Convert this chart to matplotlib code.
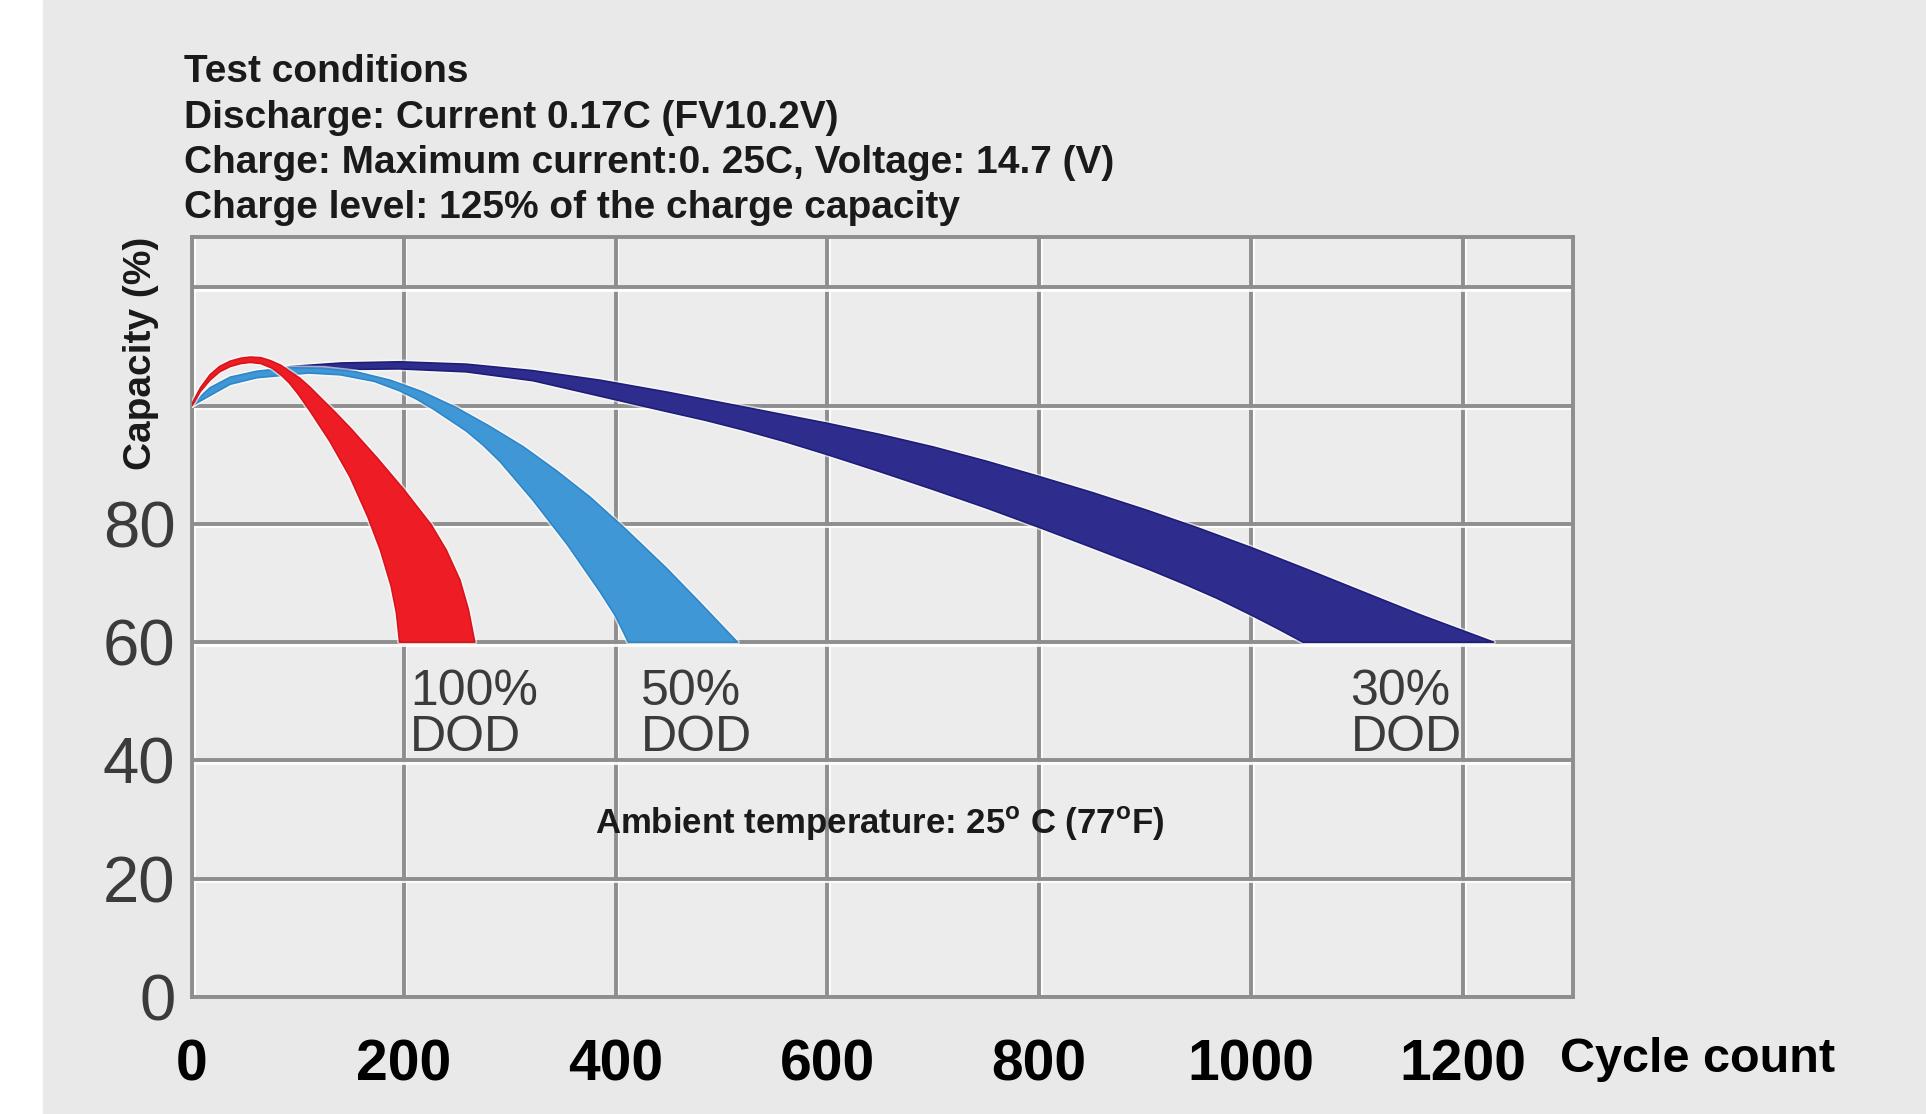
import matplotlib
matplotlib.use("Agg")
import matplotlib.pyplot as plt
import matplotlib.patheffects as pe
from matplotlib.patches import Rectangle
import numpy as np

# capacity bands (cycle count, capacity %)
red_outer_x = [0, 8, 17, 26, 36, 46, 55, 65, 74, 84, 92, 102, 112, 122, 135, 150, 175, 200, 226, 240, 253, 261, 267]
red_outer_y = [100.3, 103.0, 105.2, 106.6, 107.5, 108.0, 108.2, 108.1, 107.6, 106.8, 105.8, 104.6, 103.0, 101.2,
               98.9, 96.1, 91.1, 85.8, 79.8, 75.6, 70.5, 65.5, 60]
red_inner_x = [0, 8, 17, 26, 36, 46, 55, 65, 76, 84, 92, 100, 111, 130, 149, 166, 178, 188, 193, 196]
red_inner_y = [100.0, 102.4, 104.3, 105.7, 106.6, 107.1, 107.3, 107.1, 106.3, 105.2, 103.8, 102.0, 99.2, 94.0,
               88.0, 81.2, 75.5, 69.5, 65.0, 60]

blue_outer_x = [0, 17, 36, 61, 92, 124, 155, 187, 218, 250, 281, 313, 344, 376, 410, 448, 480, 515]
blue_outer_y = [100.2, 103.0, 104.8, 105.8, 106.4, 106.3, 105.7, 104.3, 102.3, 99.6, 96.5, 93.0, 89.0, 84.5,
                79.0, 72.5, 66.6, 60]
blue_inner_x = [0, 17, 36, 61, 110, 140, 172, 196, 212, 228, 259, 275, 291, 322, 354, 385, 400, 412]
blue_inner_y = [100.0, 101.7, 103.6, 104.7, 105.5, 105.2, 104.1, 102.5, 101.1, 99.4, 95.7, 93.3, 90.5, 84.0,
                76.6, 68.6, 64.4, 60]

navy_outer_x = [0, 36, 62, 93, 141, 196, 259, 322, 385, 448, 520, 600, 650, 700, 750, 800, 850, 900, 950,
                1000, 1050, 1100, 1160, 1229]
navy_outer_y = [100.2, 104.4, 105.6, 106.6, 107.2, 107.4, 107.0, 105.9, 104.3, 102.3, 99.8, 97.0, 95.1, 93.0,
                90.6, 88.0, 85.3, 82.4, 79.3, 76.0, 72.5, 68.9, 64.6, 60]
navy_inner_x = [0, 36, 62, 93, 141, 196, 259, 322, 385, 448, 485, 520, 560, 600, 650, 700, 750, 800, 850,
                905, 940, 968, 1000, 1025, 1049]
navy_inner_y = [100.0, 103.8, 104.8, 105.6, 106.1, 106.2, 105.7, 104.2, 101.6, 99.0, 97.5, 95.9, 93.9, 91.7,
                88.8, 85.8, 82.7, 79.4, 76.0, 72.2, 69.6, 67.4, 64.6, 62.3, 60]

x_ticks = [0, 200, 400, 600, 800, 1000, 1200]
y_ticks = [0, 20, 40, 60, 80, 100, 120]
y_labels = ["0", "20", "40", "60", "80", "", ""]

header = ["Test conditions",
          "Discharge: Current 0.17C (FV10.2V)",
          "Charge: Maximum current:0. 25C, Voltage: 14.7 (V)",
          "Charge level: 125% of the charge capacity"]

plt.rcParams["font.family"] = ["Liberation Sans", "DejaVu Sans"]
plt.rcParams["mathtext.fontset"] = "custom"
plt.rcParams["mathtext.rm"] = "Liberation Sans"
plt.rcParams["mathtext.bf"] = "Liberation Sans:bold"

W, H = 1926, 1114
fig = plt.figure(figsize=(W / 100, H / 100), dpi=100)
fig.patch.set_facecolor("white")
fig.patches.append(Rectangle((43 / W, 0), 1, 1, transform=fig.transFigure,
                             color="#e9e9e9", zorder=-10))

ax = fig.add_axes([192 / W, 117 / H, (1573 - 192) / W, (997 - 237) / H])
ax.set_facecolor("#ececec")
ax.set_xlim(0, 1304)
ax.set_ylim(0, 128.5)

grid_c = "#8e8e8e"
glow = [pe.SimpleLineShadow(offset=(1.2, -1.8), shadow_color="white", alpha=0.9), pe.Normal()]
ax.set_axisbelow(True)
ax.grid(True, color=grid_c, lw=2.8, path_effects=glow)
for s in ax.spines.values():
    s.set_color(grid_c)
    s.set_linewidth(2.8)

ax.set_xticks(x_ticks)
ax.set_yticks(y_ticks)
ax.set_yticklabels(y_labels)
ax.tick_params(length=0)
ax.tick_params(axis="x", pad=30, labelsize=41, labelcolor="black")
ax.tick_params(axis="y", pad=12, labelsize=47, labelcolor="#3b3b3b")
for t in ax.get_xticklabels():
    t.set_fontweight("bold")

band_fx = [pe.Stroke(linewidth=3.5, foreground="white", alpha=0.6, joinstyle="round"), pe.Normal()]
bands = [(navy_outer_x, navy_outer_y, navy_inner_x, navy_inner_y, "#2e2d8e", "#1e1d78"),
         (blue_outer_x, blue_outer_y, blue_inner_x, blue_inner_y, "#3f97d6", "#2f86c8"),
         (red_outer_x, red_outer_y, red_inner_x, red_inner_y, "#ee1c25", "#d8141c")]
for i, (ox, oy, ix, iy, fc, ec) in enumerate(bands):
    ax.fill(np.r_[ox, ix[::-1]], np.r_[oy, iy[::-1]], facecolor=fc, edgecolor=ec,
            lw=1.2, joinstyle="round", zorder=3 + i, path_effects=band_fx)

dod_style = dict(fontsize=36, color="#3b3b3b", ha="left", va="top", linespacing=1.0)
ax.text(206, 55.4, "100%\nDOD", **dod_style)
ax.text(424, 55.4, "50%\nDOD", **dod_style)
ax.text(1094, 55.4, "30%\nDOD", **dod_style)

ax.text(381, 29.2, r"Ambient temperature: 25$^{\mathbf{o}}$ C (77$^{\mathbf{o}}$F)",
        fontsize=25, fontweight="bold", color="#1a1a1a", ha="left", va="center")

for i, line in enumerate(header):
    fig.text(184 / W, 1 - (72 + 45.5 * i) / H, line, fontsize=28, fontweight="bold",
             color="#1a1a1a", ha="left", va="center")

fig.text(141 / W, 1 - 353 / H, "Capacity (%)", rotation=90, fontsize=28,
         fontweight="bold", color="#1a1a1a", ha="center", va="center")
fig.text(1560 / W, 1 - 1059 / H, "Cycle count", fontsize=35, fontweight="bold",
         color="black", ha="left", va="center")

fig.savefig("out.png", dpi=100, facecolor=fig.get_facecolor())
